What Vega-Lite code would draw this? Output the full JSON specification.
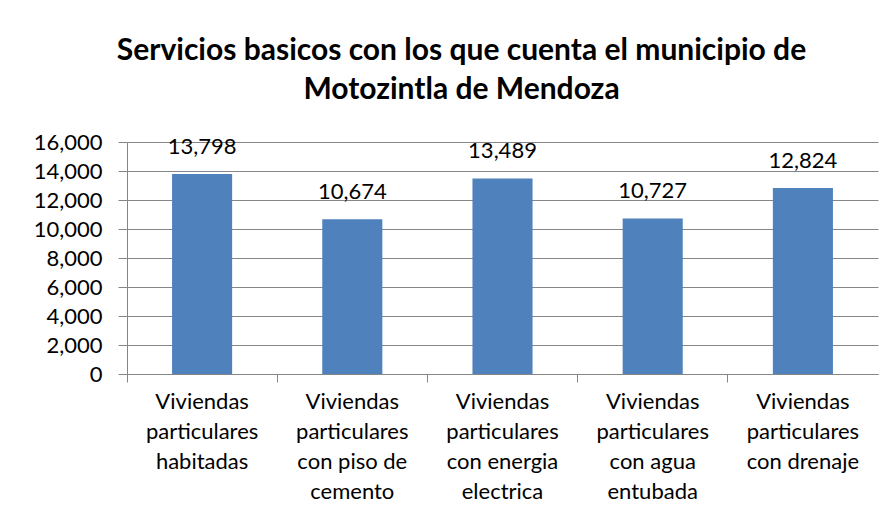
{
  "$schema": "https://vega.github.io/schema/vega-lite/v6.json",
  "width": 751,
  "height": 232,
  "autosize": {"type": "none"},
  "padding": {"left": 127, "top": 142, "right": 15, "bottom": 147},
  "background": "white",
  "title": {
    "text": ["Servicios basicos con los que cuenta el municipio de", "Motozintla de Mendoza"],
    "font": "Lato",
    "fontSize": 30,
    "fontWeight": "bold",
    "color": "black",
    "lineHeight": 39,
    "anchor": "middle",
    "dx": -41,
    "offset": 26
  },
  "data": {
    "values": [
      {"categoria": "Viviendas\nparticulares\nhabitadas", "viviendas": 13798},
      {"categoria": "Viviendas\nparticulares\ncon piso de\ncemento", "viviendas": 10674},
      {"categoria": "Viviendas\nparticulares\ncon energia\nelectrica", "viviendas": 13489},
      {"categoria": "Viviendas\nparticulares\ncon agua\nentubada", "viviendas": 10727},
      {"categoria": "Viviendas\nparticulares\ncon drenaje", "viviendas": 12824}
    ]
  },
  "encoding": {
    "x": {
      "field": "categoria",
      "type": "nominal",
      "sort": null,
      "title": null,
      "scale": {"paddingInner": 0.6, "paddingOuter": 0.3},
      "axis": {
        "labelAngle": 0,
        "labelExpr": "split(datum.label, '\\n')",
        "labelFont": "Lato",
        "labelFontSize": 22,
        "labelColor": "black",
        "labelLineHeight": 30,
        "labelBaseline": "top",
        "labelPadding": 9,
        "tickSize": 8,
        "tickColor": "#868686",
        "domainColor": "#868686",
        "bandPosition": -0.75,
        "grid": false
      }
    },
    "y": {
      "field": "viviendas",
      "type": "quantitative",
      "title": null,
      "scale": {"domain": [0, 16000]},
      "axis": {
        "values": [0, 2000, 4000, 6000, 8000, 10000, 12000, 14000, 16000],
        "format": ",d",
        "labelFont": "Lato",
        "labelFontSize": 22,
        "labelColor": "black",
        "labelPadding": 16,
        "tickSize": 9,
        "tickColor": "#868686",
        "domainColor": "#868686",
        "gridColor": "#868686",
        "grid": true
      }
    }
  },
  "layer": [
    {"mark": {"type": "bar", "color": "#4F81BD"}},
    {
      "mark": {"type": "text", "dy": -15, "baseline": "bottom", "font": "Lato", "fontSize": 22, "color": "black"},
      "encoding": {"text": {"field": "viviendas", "type": "quantitative", "format": ",d"}}
    }
  ],
  "config": {"view": {"stroke": null}}
}
